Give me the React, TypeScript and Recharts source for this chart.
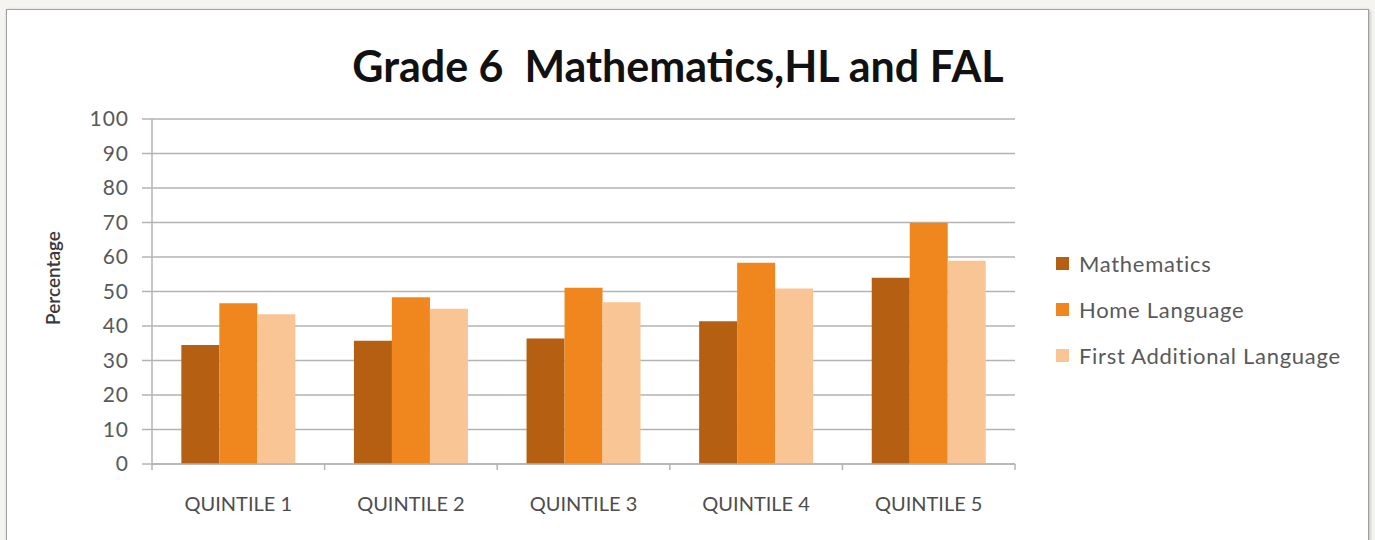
import React from 'react';
import { BarChart, Bar, XAxis, YAxis, CartesianGrid, Legend } from 'recharts';

const CATEGORIES = ['QUINTILE 1', 'QUINTILE 2', 'QUINTILE 3', 'QUINTILE 4', 'QUINTILE 5'];
const MATHEMATICS = [34.5, 35.7, 36.4, 41.4, 54.0];
const HOME_LANGUAGE = [46.6, 48.3, 51.1, 58.3, 69.9];
const FIRST_ADDITIONAL = [43.4, 45.0, 46.9, 50.9, 58.9];
const Y_TICKS = [0, 10, 20, 30, 40, 50, 60, 70, 80, 90, 100];

const SERIES = [
  { key: 'math', name: 'Mathematics', color: '#b55f12' },
  { key: 'hl', name: 'Home Language', color: '#f0861e' },
  { key: 'fal', name: 'First Additional Language', color: '#fac595' },
];

const data = CATEGORIES.map((quintile, i) => ({
  quintile,
  math: MATHEMATICS[i],
  hl: HOME_LANGUAGE[i],
  fal: FIRST_ADDITIONAL[i],
}));

const FONT = 'Lato, "Open Sans", sans-serif';
const GRID = '#b3b3b3';
const X_TICK_SIZE = 6;
const X_TICK_MARGIN = 27;

function LegendBox() {
  return (
    <div style={{ fontFamily: FONT }}>
      {SERIES.map((s) => (
        <div key={s.key} style={{ display: 'flex', alignItems: 'center', height: 46 }}>
          <span style={{ width: 13, height: 13, background: s.color, marginRight: 10 }} />
          <span style={{ fontSize: 22, letterSpacing: 0.7, color: '#595959' }}>{s.name}</span>
        </div>
      ))}
    </div>
  );
}

function AxisTitle() {
  return (
    <text
      x={0}
      y={0}
      transform="translate(60, 278) rotate(-90)"
      textAnchor="middle"
      fontFamily={FONT}
      fontSize={19}
      fontWeight={600}
      fill="#3a3a3a"
    >
      Percentage
    </text>
  );
}

// category label plus Excel-style tick marks on the category boundaries
function QuintileTick({ x, y, payload }: any) {
  const half = payload.offset || 0;
  const axisY = y - X_TICK_SIZE - X_TICK_MARGIN;
  const last = payload.index === CATEGORIES.length - 1;
  return (
    <g>
      <line x1={x - half} x2={x - half} y1={axisY} y2={axisY + X_TICK_SIZE} stroke={GRID} strokeWidth={1.5} />
      {last && (
        <line x1={x + half} x2={x + half} y1={axisY} y2={axisY + X_TICK_SIZE} stroke={GRID} strokeWidth={1.5} />
      )}
      <text x={x} y={y} dy="0.71em" textAnchor="middle" fill="#4d4d4d" fontSize={20} fontFamily={FONT}>
        {payload.value}
      </text>
    </g>
  );
}

export default function App() {
  return (
    <div style={{ position: 'absolute', left: 0, top: 0, width: 1375, height: 540, background: '#f5f4f0', overflow: 'hidden' }}>
      <div
        style={{
          position: 'absolute',
          left: 6,
          top: 9,
          width: 1361,
          height: 560,
          background: '#fff',
          border: '1.5px solid #a0a0a0',
          boxShadow: '1px 1px 3px rgba(0,0,0,0.25)',
        }}
      />
      <div
        style={{
          position: 'absolute',
          left: 0,
          width: 1356,
          top: 40,
          textAlign: 'center',
          fontFamily: FONT,
          fontWeight: 700,
          fontSize: 43,
          color: '#111',
        }}
      >
        Grade 6&nbsp;&nbsp;Mathematics,HL and FAL
      </div>
      <div style={{ position: 'absolute', left: 0, top: 0 }}>
        <BarChart
          width={1375}
          height={540}
          data={data}
          margin={{ top: 119, right: 360, bottom: 36, left: 0 }}
          barCategoryGap="17%"
          barGap={0}
        >
          <CartesianGrid horizontal vertical={false} stroke={GRID} strokeWidth={1.5} />
          <XAxis
            dataKey="quintile"
            height={40}
            interval={0}
            tickLine={false}
            tickSize={X_TICK_SIZE}
            tickMargin={X_TICK_MARGIN}
            axisLine={{ stroke: GRID, strokeWidth: 1.5 }}
            tick={<QuintileTick />}
          />
          <YAxis
            width={152}
            domain={[0, 100]}
            ticks={Y_TICKS}
            interval={0}
            tickSize={10}
            tickMargin={13}
            tickLine={{ stroke: GRID, strokeWidth: 1.5 }}
            axisLine={{ stroke: GRID, strokeWidth: 1.5 }}
            tick={{ fill: '#595959', fontSize: 21, fontFamily: FONT, letterSpacing: 1 }}
            label={<AxisTitle />}
          />
          <Legend
            layout="vertical"
            align="center"
            verticalAlign="middle"
            wrapperStyle={{ left: 1056, top: 240, width: 315 }}
            content={<LegendBox />}
          />
          {SERIES.map((s) => (
            <Bar key={s.key} dataKey={s.key} name={s.name} fill={s.color} isAnimationActive={false} />
          ))}
        </BarChart>
      </div>
    </div>
  );
}
